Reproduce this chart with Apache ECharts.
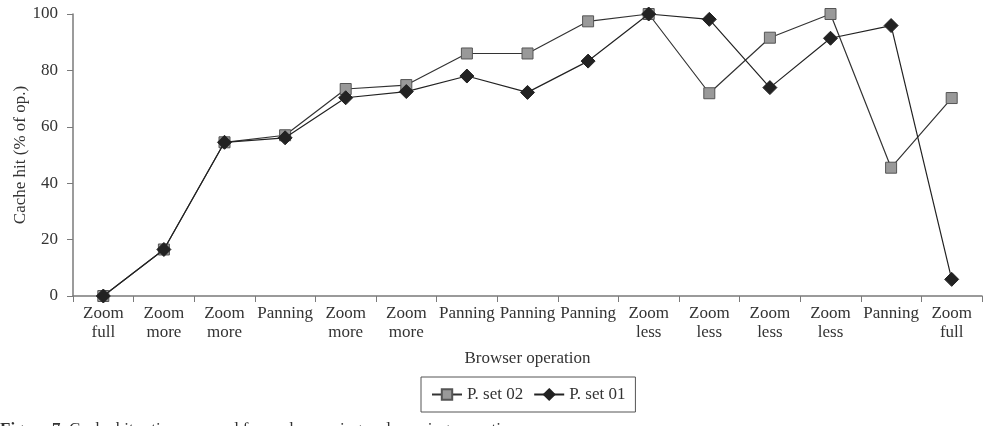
<!DOCTYPE html>
<html>
<head>
<meta charset="utf-8">
<script src="https://cdn.jsdelivr.net/npm/echarts@6/dist/echarts.min.js"></script>
<style>
  html, body { margin: 0; padding: 0; background: #fff; }
  #chart { width: 985px; height: 426px; }
</style>
</head>
<body>
<div id="chart"></div>
<script>
var operations = ['Zoom\nfull', 'Zoom\nmore', 'Zoom\nmore', 'Panning', 'Zoom\nmore', 'Zoom\nmore',
    'Panning', 'Panning', 'Panning', 'Zoom\nless', 'Zoom\nless', 'Zoom\nless', 'Zoom\nless',
    'Panning', 'Zoom\nfull'];
var set02 = [0, 16.5, 54.5, 57, 73.4, 74.8, 86, 86, 97.4, 100, 71.9, 91.6, 100, 45.5, 70.2];
var set01 = [0, 16.5, 54.5, 56.1, 70.3, 72.5, 78, 72.2, 83.3, 100, 98.1, 73.9, 91.4, 95.9, 5.9];

var font = 'Liberation Serif';
var txt = '#333';
var axisCol = '#7a7a7a';

var chart = echarts.init(document.getElementById('chart'));

var option = {
    backgroundColor: '#fff',
    animation: false,
    textStyle: { fontFamily: font, color: txt },
    grid: { left: 73, right: 3, top: 14, bottom: 130, containLabel: false, outerBoundsMode: 'none' },
    legend: {
        bottom: 14,
        left: 421,
        orient: 'horizontal',
        borderColor: '#555',
        borderWidth: 1,
        borderRadius: 0,
        padding: [9, 10, 9, 10],
        itemWidth: 30,
        itemHeight: 13,
        itemGap: 10,
        textStyle: { fontFamily: font, fontSize: 17, color: txt },
        data: ['P. set 02', 'P. set 01']
    },
    xAxis: {
        type: 'category',
        data: operations,
        boundaryGap: true,
        name: 'Browser operation',
        nameLocation: 'middle',
        nameGap: 54,
        nameTextStyle: { fontFamily: font, fontSize: 17, color: txt },
        axisLine: { lineStyle: { color: axisCol, width: 1.5 } },
        axisTick: { show: true, length: 6, lineStyle: { color: axisCol } },
        axisLabel: { interval: 0, fontFamily: font, fontSize: 17, color: txt, lineHeight: 19, margin: 8 },
        splitLine: { show: false }
    },
    yAxis: {
        type: 'value',
        min: 0,
        max: 100,
        interval: 20,
        name: 'Cache hit (% of op.)',
        nameLocation: 'middle',
        nameGap: 44,
        nameRotate: 90,
        nameMoveOverlap: false,
        nameTextStyle: { fontFamily: font, fontSize: 17, color: txt },
        axisLine: { show: true, lineStyle: { color: axisCol, width: 1.5 } },
        axisTick: { show: true, length: 6, lineStyle: { color: axisCol } },
        axisLabel: { fontFamily: font, fontSize: 17, color: txt, margin: 15 },
        splitLine: { show: false }
    },
    series: [{
        name: 'P. set 02',
        type: 'line',
        data: set02,
        symbol: 'rect',
        symbolSize: 11,
        lineStyle: { color: '#333', width: 1.2 },
        itemStyle: { color: '#999', borderColor: '#555', borderWidth: 1 },
        z: 2
    }, {
        name: 'P. set 01',
        type: 'line',
        data: set01,
        symbol: 'diamond',
        symbolSize: 14,
        lineStyle: { color: '#222', width: 1.2 },
        itemStyle: { color: '#222', borderColor: '#222', borderWidth: 1 },
        z: 3
    }],
    graphic: [{
        type: 'text',
        left: 0,
        top: 421,
        style: {
            text: '{b|Figure 7.} Cache hit ratio measured for each zooming and panning operation.',
            font: '17px "Liberation Serif"',
            fill: txt,
            rich: { b: { fontWeight: 'bold', fontFamily: font, fontSize: 17, fill: txt } }
        }
    }]
};

chart.setOption(option);
</script>
</body>
</html>
